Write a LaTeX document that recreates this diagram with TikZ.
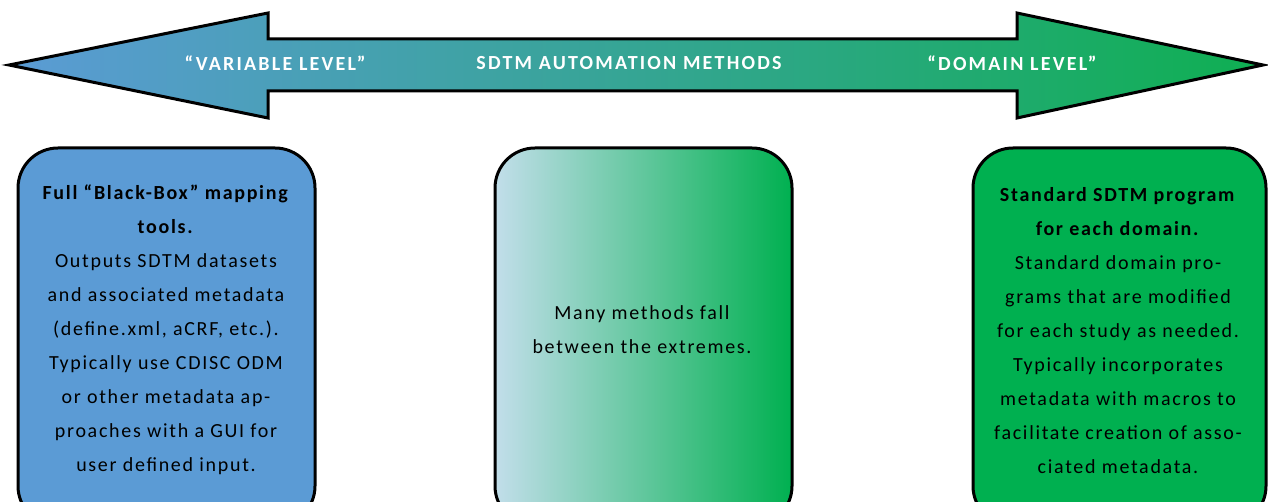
\documentclass[tikz,border=0pt]{standalone}
\usepackage{fontspec}
\setmainfont{Carlito}
\newfontfamily\spacedfont[LetterSpace=8.5]{Carlito}
\newfontfamily\spacedhead[LetterSpace=11]{Carlito}
\usetikzlibrary{shapes.misc}
\definecolor{lblue}{HTML}{5B9BD5}
\definecolor{dgreen}{HTML}{0FAF52}
\definecolor{boxgreen}{HTML}{00B050}
\definecolor{paleblue}{HTML}{C2DEEA}
\tikzset{
  outline/.style={draw=black, line width=3pt, line join=miter},
  roundbox/.style={outline, rounded corners=40pt},
  arrowtxt/.style={text=white, font=\spacedhead\fontsize{20}{22}\bfseries\selectfont},
  bodytxt/.style={align=center, text=black, font=\spacedfont\fontsize{20}{34}\selectfont},
}
\begin{document}
\begin{tikzpicture}[x=1pt,y=1pt]
\useasboundingbox (0,0) rectangle (1268,501);
\clip (0,0) rectangle (1268,501);
% double arrow (y = 501 - ypx)
\coordinate (lt) at (9,436);
\coordinate (rt) at (1263,436);
\path[outline, left color=lblue, right color=dgreen]
  (lt) -- (268,488) -- (268,462) -- (1017,462) -- (1017,488) -- (rt)
  -- (1017,383) -- (1017,410) -- (268,410) -- (268,383) -- cycle;
\node[arrowtxt] (var) at (275,438) {“VARIABLE LEVEL”};
\node[arrowtxt] (sdtm) at (629,438) {SDTM AUTOMATION METHODS};
\node[arrowtxt] (dom) at (1012,438) {“DOMAIN LEVEL”};
% boxes
\path[roundbox, fill=lblue] (18,-25) rectangle (315,353);
\path[roundbox, left color=paleblue, right color=boxgreen] (495,-25) rectangle (792,353);
\path[roundbox, fill=boxgreen] (973,-25) rectangle (1266,353);
\node[bodytxt] (ltxt) at (166,171) {\textbf{Full “Black-Box” mapping}\\ \textbf{tools.}\\ Outputs SDTM datasets\\ and associated metadata\\ (define.xml, aCRF, etc.).\\ Typically use CDISC ODM\\ or other metadata ap-\\ proaches with a GUI for\\ user defined input.};
\node[bodytxt] (mtxt) at (642,171) {Many methods fall\\ between the extremes.};
\node[bodytxt] (rtxt) at (1118,170) {\textbf{Standard SDTM program}\\ \textbf{for each domain.}\\ Standard domain pro-\\ grams that are modified\\ for each study as needed.\\ Typically incorporates\\ metadata with macros to\\ facilitate creation of asso-\\ ciated metadata.};
\end{tikzpicture}
\end{document}
